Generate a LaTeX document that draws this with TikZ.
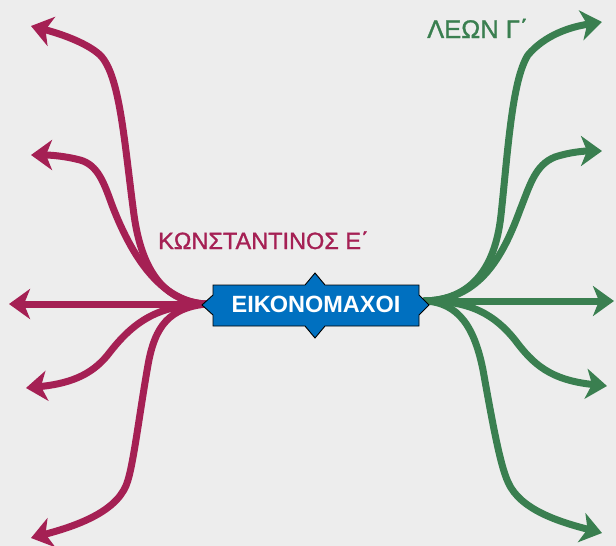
\documentclass[tikz,border=0pt]{standalone}
\usepackage{fontspec}
\setmainfont{Liberation Sans}
\newfontfamily\lblfont[FakeBold=1.2]{Liberation Sans}
\usetikzlibrary{arrows.meta}
\definecolor{bg}{HTML}{EDEDED}
\definecolor{crim}{HTML}{A52054}
\definecolor{grn}{HTML}{3A7F50}
\definecolor{nblue}{HTML}{0070C0}
\tikzset{
  branch/.style={line width=7pt, line cap=round, -{Stealth[length=21pt,width=30pt,inset=6pt]}},
  lbranch/.style={branch, draw=crim, color=crim},
  rbranch/.style={branch, draw=grn, color=grn},
  lbl/.style={anchor=base west, inner sep=0pt}
}
\begin{document}
\begin{tikzpicture}[x=1pt,y=-1pt]
\fill[bg] (0,0) rectangle (616,546);
\useasboundingbox (0,0) rectangle (616,546);
\coordinate (L) at (206,304);
\coordinate (R) at (424,301);
% left branches
\draw[lbranch] (L) .. controls (165,302) and (142,272) .. (134,215) .. controls (124,140) and (120,75) .. (100,55) .. controls (88,44) and (65,35) .. (31,26) coordinate (l1);
\draw[lbranch] (L) .. controls (165,302) and (135,265) .. (112,205) .. controls (104,183) and (98,165) .. (80,160) .. controls (65,156) and (50,155) .. (31,155) coordinate (l2);
\draw[lbranch] (L) -- (9,304) coordinate (l3);
\draw[lbranch] (L) .. controls (160,305) and (135,320) .. (110,352) .. controls (95,372) and (75,383) .. (26,388) coordinate (l4);
\draw[lbranch] (L) .. controls (170,308) and (155,325) .. (148,365) .. controls (140,410) and (134,460) .. (128,480) .. controls (120,510) and (80,525) .. (31,538) coordinate (l5);
% right branches
\draw[rbranch] (R) .. controls (470,300) and (495,270) .. (501,215) .. controls (508,150) and (512,80) .. (528,55) .. controls (545,35) and (570,27) .. (602,22) coordinate (r1);
\draw[rbranch] (R) .. controls (475,300) and (500,265) .. (520,210) .. controls (530,185) and (535,165) .. (555,157) .. controls (570,152) and (585,151) .. (602,151) coordinate (r2);
\draw[rbranch] (R) -- (614,301) coordinate (r3);
\draw[rbranch] (R) .. controls (470,300) and (495,315) .. (515,340) .. controls (533,364) and (550,380) .. (607,386) coordinate (r4);
\draw[rbranch] (R) .. controls (460,302) and (475,330) .. (483,370) .. controls (492,420) and (500,465) .. (508,482) .. controls (520,510) and (560,522) .. (602,533) coordinate (r5);
% central shape
\draw[fill=nblue, draw=black, line width=0.9pt, line join=miter]
  (213,285) -- (305,285) -- (315,273) -- (325,285) -- (419,285) -- (419,295) -- (429,305) -- (419,315) -- (419,326) -- (325,326) -- (315,338) -- (305,326) -- (213,326) -- (213,315) -- (202,305) -- (213,295) -- cycle;
\node[text=white, font=\bfseries\fontsize{23.5}{28}\selectfont, inner sep=0pt] (center) at (316,304) {ΕΙΚΟΝΟΜΑΧΟΙ};
% labels
\node[lbl, text=crim, font=\lblfont\fontsize{23.5}{28}\selectfont] (konst) at (158,249) {ΚΩΝΣΤΑΝΤΙΝΟΣ Ε΄};
\node[lbl, text=grn, font=\lblfont\fontsize{25.5}{30}\selectfont] (leon) at (427,38) {ΛΕΩΝ Γ΄};
\end{tikzpicture}
\end{document}
